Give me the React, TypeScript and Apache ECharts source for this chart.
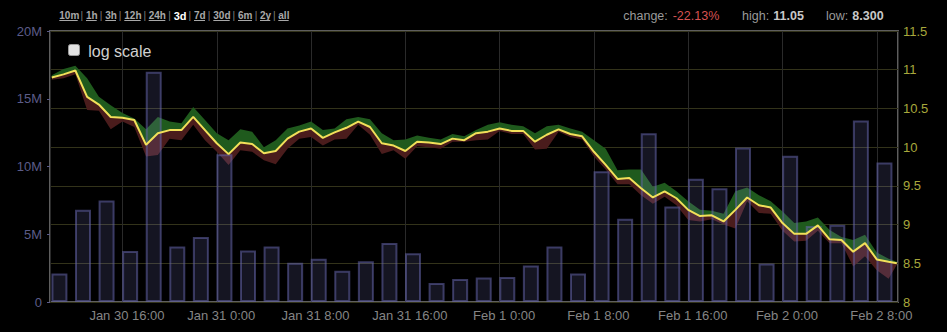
import React, { useEffect, useRef } from "react";
import * as echarts from "echarts";

// ---- data ----
const timeframeLabels = ["10m", "1h", "3h", "12h", "24h", "3d", "7d", "30d", "6m", "2y", "all"];
const activeTimeframe = "3d";

const xTickLabels = [
  "Jan 30 16:00", "Jan 31 0:00", "Jan 31 8:00", "Jan 31 16:00", "Feb 1 0:00",
  "Feb 1 8:00", "Feb 1 16:00", "Feb 2 0:00", "Feb 2 8:00",
];
const xTickFirstUnit = 2; // Jan 30 16:00 = 2 x 8h after Jan 30 0:00
const volumeTickLabels = ["0", "5M", "10M", "15M", "20M"];
const priceTickLabels = ["8", "8.5", "9", "9.5", "10", "10.5", "11", "11.5"];

// hours counted from Jan 30 0:00
const axisStartHour = 9.85;
const axisEndHour = 81.8;

// volume, 2h buckets, millions
const volumeStartHour = 10.65;
const volumeStepHours = 2;
const volumeM = [
  2.1, 6.8, 7.5, 3.76, 17.0, 4.1, 4.8, 10.9, 3.8, 4.1, 2.9, 3.2, 2.3, 3.0, 4.35, 3.6, 1.4, 1.7,
  1.8, 1.85, 2.7, 4.1, 2.1, 9.65, 6.15, 12.45, 7.05, 9.1, 8.4, 11.4, 2.85, 10.8, 5.6, 5.7, 13.4, 10.3,
];

// hourly price, from Jan 30 10:00, last point = now
const priceStartHour = 10;
const priceLastHour = 81.7;
const priceMid = [
  10.9, 10.94, 10.99, 10.65, 10.55, 10.39, 10.38, 10.35, 10.03, 10.18, 10.22, 10.22, 10.39, 10.22,
  10.05, 9.91, 10.06, 10.04, 9.92, 9.95, 10.11, 10.2, 10.24, 10.12, 10.19, 10.25, 10.33, 10.26,
  10.05, 10.02, 9.95, 10.07, 10.06, 10.04, 10.11, 10.09, 10.18, 10.2, 10.24, 10.21, 10.21, 10.07,
  10.16, 10.23, 10.17, 10.14, 9.94, 9.77, 9.59, 9.6, 9.47, 9.35, 9.43, 9.34, 9.19, 9.11, 9.12,
  9.04, 9.19, 9.35, 9.25, 9.22, 9.02, 8.88, 8.88, 8.99, 8.81, 8.8, 8.65, 8.76, 8.55, 8.52, 8.5,
];
const priceHigh = [
  10.93, 11.01, 11.05, 10.89, 10.65, 10.54, 10.44, 10.37, 10.23, 10.39, 10.33, 10.31, 10.52, 10.35,
  10.18, 10.09, 10.23, 10.2, 10.0, 10.09, 10.24, 10.28, 10.33, 10.22, 10.24, 10.36, 10.39, 10.36,
  10.18, 10.09, 10.1, 10.15, 10.12, 10.1, 10.17, 10.14, 10.22, 10.29, 10.32, 10.29, 10.27, 10.18,
  10.27, 10.29, 10.24, 10.2, 10.09, 9.98, 9.7, 9.71, 9.71, 9.49, 9.54, 9.43, 9.3, 9.19, 9.18,
  9.14, 9.43, 9.48, 9.38, 9.3, 9.17, 9.02, 9.04, 9.09, 8.93, 8.84, 8.8, 8.87, 8.64, 8.56, 8.52,
];
const priceLow = [
  10.87, 10.89, 10.94, 10.48, 10.47, 10.23, 10.33, 10.26, 9.88, 9.9, 10.11, 10.09, 10.29, 10.09,
  9.94, 9.77, 9.96, 9.94, 9.83, 9.78, 9.98, 10.11, 10.13, 10.02, 10.1, 10.11, 10.29, 10.16,
  9.91, 9.96, 9.85, 10.01, 10.0, 9.98, 10.07, 10.07, 10.09, 10.1, 10.21, 10.17, 10.17, 9.97,
  9.98, 10.2, 10.13, 10.1, 9.88, 9.71, 9.52, 9.52, 9.38, 9.27, 9.36, 9.25, 9.06, 9.04, 9.07,
  9.0, 8.95, 9.3, 9.15, 9.14, 8.92, 8.78, 8.79, 8.92, 8.76, 8.76, 8.46, 8.59, 8.41, 8.3, 8.48,
];

const statChange = "-22.13%";
const statHigh = "11.05";
const statLow = "8.300";

// ---- helpers ----
const UNIT = 8; // x axis unit = 8 hours
const priceHour = (i: number) => (i === priceMid.length - 1 ? priceLastHour : priceStartHour + i);

export default function App() {
  const ref = useRef<HTMLDivElement>(null);

  useEffect(() => {
    if (!ref.current) return;
    const chart = echarts.init(ref.current, undefined, { renderer: "svg" });
    const font = "Liberation Sans, Arial, sans-serif";

    const volData = volumeM.map((v, k) => [(volumeStartHour + k * volumeStepHours) / UNIT, v * 1e6]);
    const midData = priceMid.map((v, i) => [priceHour(i) / UNIT, v]);

    // timeframe link positions (layout)
    const linkPos: [number, number][] = [
      [59.3, 77.7], [86, 96.7], [105.3, 116], [124.3, 140.7], [148.7, 165.3], [173.7, 185.7],
      [194, 205], [213.3, 229.7], [238, 252], [260, 270.3], [278.3, 288.7],
    ];
    const graphics: any[] = [];
    timeframeLabels.forEach((t, i) => {
      const [l, r] = linkPos[i];
      const active = t === activeTimeframe;
      graphics.push({
        type: "text",
        x: l,
        y: 15.5,
        style: {
          text: t,
          fill: active ? "#ffffff" : "#a8a8a8",
          font: `bold ${active ? 11 : 10}px ${font}`,
          textVerticalAlign: "middle",
          verticalAlign: "middle",
        },
      });
      if (!active) {
        graphics.push({
          type: "line",
          shape: { x1: l, y1: 20.5, x2: r, y2: 20.5 },
          style: { stroke: "#a8a8a8", lineWidth: 1 },
        });
      }
      if (i < timeframeLabels.length - 1) {
        graphics.push({
          type: "text",
          x: (r + linkPos[i + 1][0]) / 2,
          y: 15.5,
          style: {
            text: "|",
            fill: "#808080",
            font: `10px ${font}`,
            textAlign: "center",
            textVerticalAlign: "middle",
            verticalAlign: "middle",
          },
        });
      }
    });
    const statText = (x: number, text: string, fill: string, bold = false) => ({
      type: "text",
      x,
      y: 16,
      style: {
        text,
        fill,
        font: `${bold ? "bold " : ""}12.5px ${font}`,
        textVerticalAlign: "middle",
        verticalAlign: "middle",
      },
    });
    graphics.push(statText(623.3, "change:", "#9a9a9a"));
    graphics.push(statText(672.7, statChange, "#d65252"));
    graphics.push(statText(742, "high:", "#9a9a9a"));
    graphics.push(statText(773.3, statHigh, "#c8c8c8", true));
    graphics.push(statText(826, "low:", "#9a9a9a"));
    graphics.push(statText(852.3, statLow, "#c8c8c8", true));
    graphics.push({
      type: "rect",
      shape: { x: 68.5, y: 44.5, width: 11, height: 11, r: 2 },
      style: { fill: "#e2e2e2", stroke: "#9a9a9a", lineWidth: 1 },
      z: 10,
    });
    graphics.push({
      type: "text",
      x: 88.3,
      y: 51.5,
      z: 10,
      style: {
        text: "log scale",
        fill: "#d0d0d0",
        font: `16px ${font}`,
        textVerticalAlign: "middle",
        verticalAlign: "middle",
      },
    });

    chart.setOption({
      animation: false,
      backgroundColor: "#000000",
      grid: {
        left: 50,
        right: 49,
        top: 31,
        bottom: 30,
        show: true,
        borderColor: "#5e5e5e",
        borderWidth: 2,
        backgroundColor: "transparent",
      },
      xAxis: {
        type: "value",
        min: axisStartHour / UNIT,
        max: axisEndHour / UNIT,
        splitNumber: 9,
        minInterval: 1,
        maxInterval: 1,
        axisLine: { show: false },
        axisTick: { show: false },
        splitLine: { show: true, lineStyle: { color: "#2a2a2a", width: 1 } },
        axisLabel: {
          color: "#858585",
          fontSize: 13,
          fontFamily: font,
          margin: 7,
          padding: [0, 0, 0, 9],
          showMinLabel: true,
          showMaxLabel: true,
          formatter: (v: number) => {
            const k = Math.round(v);
            if (Math.abs(v - k) > 1e-6) return "";
            return xTickLabels[k - xTickFirstUnit] ?? "";
          },
        },
      },
      yAxis: [
        {
          type: "value",
          position: "left",
          min: 0,
          max: 20e6,
          interval: 5e6,
          axisLine: { show: false },
          axisTick: { show: true, length: 3, lineStyle: { color: "#5c5c88", width: 1 } },
          splitLine: { show: false },
          axisLabel: {
            color: "#5c5c88",
            fontSize: 13,
            fontFamily: font,
            margin: 8,
            formatter: (_v: number, idx: number) => volumeTickLabels[idx] ?? "",
          },
        },
        {
          type: "value",
          position: "right",
          min: 8,
          max: 11.5,
          interval: 0.5,
          axisLine: { show: false },
          axisTick: { show: false },
          splitLine: { show: true, lineStyle: { color: "#33331a", width: 1 } },
          axisLabel: {
            color: "#a8a83c",
            fontSize: 13,
            fontFamily: font,
            margin: 5,
            formatter: (_v: number, idx: number) => priceTickLabels[idx] ?? "",
          },
        },
      ],
      series: [
        {
          type: "custom",
          xAxisIndex: 0,
          yAxisIndex: 1,
          z: 1,
          silent: true,
          data: [[priceHour(0) / UNIT, priceMid[0]]],
          renderItem: (_params: any, api: any) => {
            const hi = priceHigh.map((v, i) => api.coord([priceHour(i) / UNIT, v]));
            const mid = priceMid.map((v, i) => api.coord([priceHour(i) / UNIT, v]));
            const lo = priceLow.map((v, i) => api.coord([priceHour(i) / UNIT, v]));
            return {
              type: "group",
              children: [
                {
                  type: "polygon",
                  shape: { points: [...hi, ...mid.slice().reverse()] },
                  style: { fill: "#1f5a1d" },
                },
                {
                  type: "polygon",
                  shape: { points: [...mid, ...lo.slice().reverse()] },
                  style: { fill: "#4a1c1c" },
                },
              ],
            };
          },
        },
        {
          type: "bar",
          xAxisIndex: 0,
          yAxisIndex: 0,
          z: 2,
          barWidth: 16,
          data: volData,
          itemStyle: {
            color: "rgba(150,150,240,0.14)",
            borderColor: "rgba(100,100,170,0.55)",
            borderWidth: 2,
          },
        },
        {
          type: "line",
          xAxisIndex: 0,
          yAxisIndex: 1,
          z: 3,
          data: midData,
          symbol: "none",
          lineStyle: { color: "#f2e05a", width: 2 },
        },
      ],
      graphic: graphics,
    });

    return () => chart.dispose();
  }, []);

  return (
    <div
      ref={ref}
      style={{ position: "fixed", left: 0, top: 0, width: 947, height: 332, background: "#000" }}
    />
  );
}
